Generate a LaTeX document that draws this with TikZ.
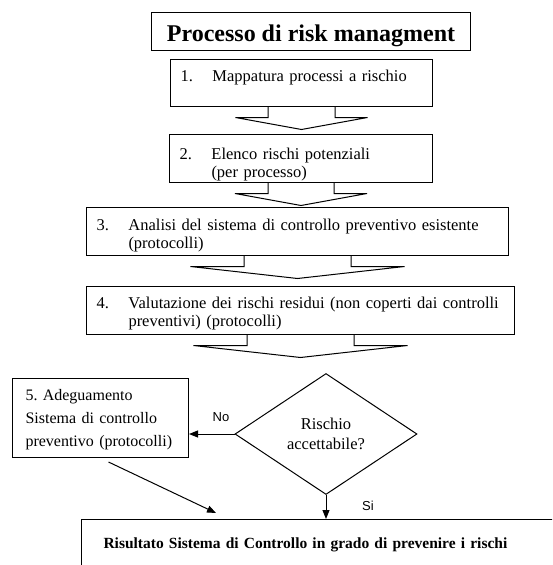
\documentclass[tikz,border=0pt]{standalone}
\usepackage{fontspec}
\setmainfont{Liberation Serif}
\newfontfamily\labelFont{Liberation Sans}
\usetikzlibrary{shapes.geometric,arrows.meta}
\def\numSep{32pt}
\def\arrowDrop{10.5}
\def\tipDrop{12}
\tikzset{
  stepBox/.style={
    draw,
    fill=white,
    line width=1pt,
    anchor=north west,
    align=left,
    inner xsep=10pt,
    inner ysep=0pt,
    font=\fontsize{16.5}{18}\selectfont
  },
  titleBox/.style={
    stepBox,
    align=center,
    font=\fontsize{24}{28}\selectfont\bfseries
  },
  resultBox/.style={
    stepBox,
    inner xsep=22pt,
    font=\fontsize{15.5}{18}\selectfont\bfseries
  },
  decisionNode/.style={
    draw,
    diamond,
    line width=1pt,
    inner sep=0pt,
    minimum width=182pt,
    minimum height=121pt,
    align=center,
    font=\fontsize{16.5}{20}\selectfont
  },
  choiceLabel/.style={inner sep=0pt,font=\labelFont\fontsize{13}{15}\selectfont},
  flowArrow/.style={line width=1pt,-{Triangle[length=9pt,width=7pt]}},
  blockArrowLine/.style={line width=1pt,line join=miter}
}
\newcommand{\blockArrow}[3]{%
  \draw[blockArrowLine] ([xshift=-#2pt]#1.south) -- ++(0,\arrowDrop) -- ++(#2-#3,0)
    -- ++(#3,\tipDrop) -- ++(#3,-\tipDrop) -- ++(#2-#3,0) -- ++(0,-\arrowDrop);
}

\begin{document}
\begin{tikzpicture}[x=1pt,y=-1pt]
  \useasboundingbox (0,0) rectangle (552,565);
  \clip (0,0) rectangle (552,565);

  \node[titleBox,minimum width=319pt,text height=29pt,text depth=9pt] (title) at (151,12)
    {Processo di risk managment};

  \node[stepBox,text width=242pt,text height=22pt,text depth=25pt] (s1) at (170,59)
    {\makebox[\numSep][l]{1.}Mappatura processi a rischio};
  \node[stepBox,text width=243pt,text height=25pt,text depth=23pt] (s2) at (169,134)
    {\makebox[\numSep][l]{2.}Elenco rischi potenziali\\\hspace*{\numSep}(per processo)};
  \node[stepBox,text width=402pt,text height=23pt,text depth=25pt] (s3) at (86,207)
    {\makebox[\numSep][l]{3.}Analisi del sistema di controllo preventivo esistente\\\hspace*{\numSep}(protocolli)};
  \node[stepBox,text width=408pt,text height=22pt,text depth=26pt] (s4) at (86,286)
    {\makebox[\numSep][l]{4.}Valutazione dei rischi residui (non coperti dai controlli\\\hspace*{\numSep}preventivi) (protocolli)};

  \blockArrow{s1}{33.5}{66}
  \blockArrow{s2}{33}{66}
  \blockArrow{s3}{53.5}{107}
  \blockArrow{s4}{53.5}{107}

  \node[decisionNode] (decision) at (326,434) {Rischio\\accettabile?};

  \node[stepBox,inner xsep=13pt,text width=150pt,text height=22pt,text depth=57pt,
    font=\fontsize{16}{23}\selectfont\frenchspacing] (s5) at (12,378)
    {5. Adeguamento\\Sistema di controllo\\preventivo (protocolli)};

  \node[resultBox,text width=449pt,text height=29pt,text depth=40pt] (result) at (81,519)
    {Risultato Sistema di Controllo in grado di prevenire i rischi};

  \draw[flowArrow] (decision.west) -- (decision.west -| s5.east);
  \draw[flowArrow] ([xshift=8pt,yshift=-4pt]s5.south) -- ([xshift=135pt,yshift=6pt]result.north west);
  \draw[flowArrow] (decision.south) -- (decision.south |- result.north);

  \node[choiceLabel] (noLabel) at (221,417) {No};
  \node[choiceLabel] (siLabel) at (368,506) {Si};
\end{tikzpicture}
\end{document}
